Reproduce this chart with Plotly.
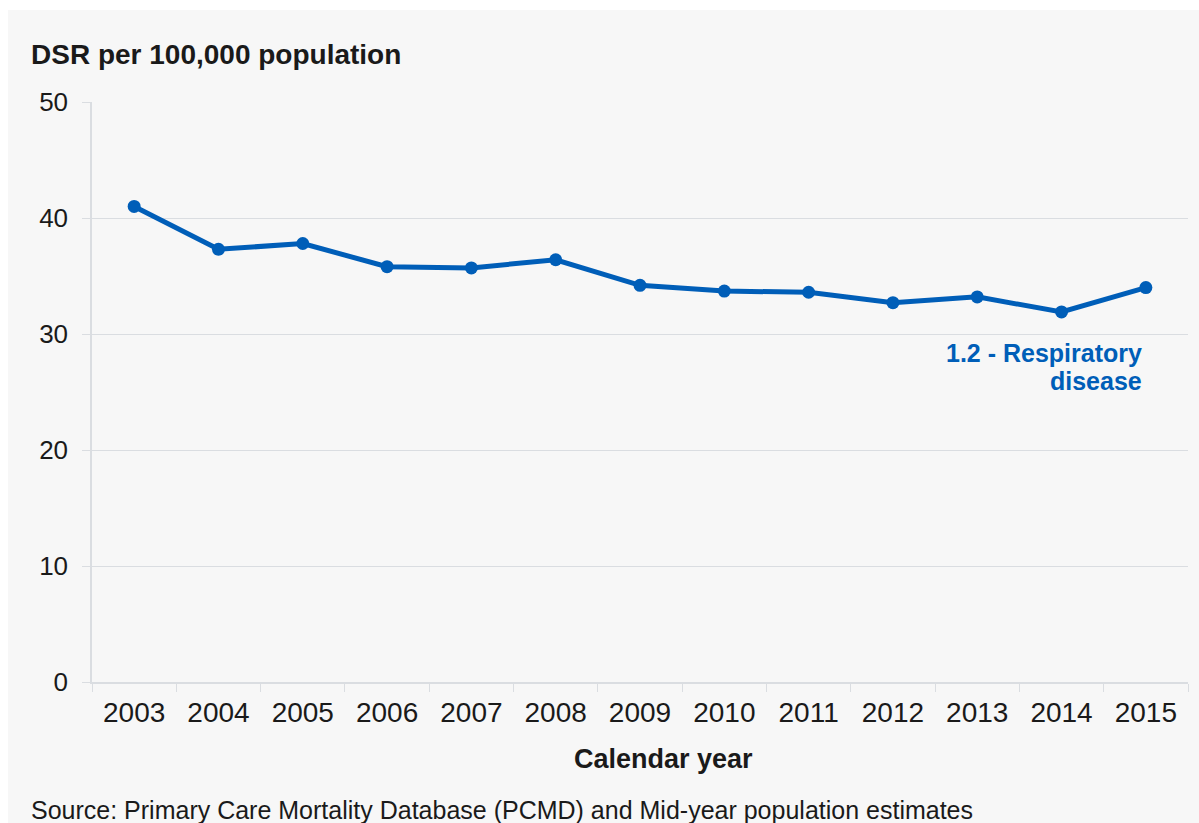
import plotly.graph_objects as go

years = ["2003", "2004", "2005", "2006", "2007", "2008", "2009",
         "2010", "2011", "2012", "2013", "2014", "2015"]
dsr = [41.0, 37.3, 37.8, 35.8, 35.7, 36.4, 34.2, 33.7, 33.6, 32.7, 33.2, 31.9, 34.0]

y_ticks = [0, 10, 20, 30, 40, 50]
series_label_lines = ["1.2 - Respiratory", "disease"]

BLUE = "#005EB8"
BG = "#f7f7f7"
GRID = "#dadde1"
TXT = "#1a1a1a"
FONT = "Liberation Sans, Arial, sans-serif"

fig = go.Figure()
fig.add_trace(go.Scatter(
    x=years, y=dsr, mode="lines+markers",
    line=dict(color=BLUE, width=5),
    marker=dict(color=BLUE, size=13),
    showlegend=False, hoverinfo="x+y",
))

W, H = 1199, 823
ml, mr, mt, mb = 92, 11, 102, 141
pw = W - ml - mr
ph = H - mt - mb

def px_x(p):
    return (p - ml) / pw

def px_y(p):
    return (H - mb - p) / ph

fig.add_shape(type="rect", xref="paper", yref="paper",
              x0=px_x(8), x1=px_x(W + 5), y0=px_y(10), y1=px_y(H + 5),
              fillcolor=BG, line=dict(width=0), layer="below")

fig.update_layout(
    width=W, height=H,
    margin=dict(l=ml, r=mr, t=mt, b=mb),
    paper_bgcolor="white",
    plot_bgcolor=BG,
    font=dict(family=FONT, color=TXT, size=25),
    xaxis=dict(
        type="category",
        tickmode="array", tickvals=years, ticktext=years,
        tickson="boundaries", ticks="outside", ticklen=8, tickcolor=GRID,
        showline=True, linecolor=GRID, linewidth=1.5,
        showgrid=False,
        tickfont=dict(size=28, color=TXT),
        ticklabelstandoff=5,
        range=[-0.5, len(years) - 0.5],
    ),
    yaxis=dict(
        range=[0, 50], tickvals=y_ticks,
        ticks="outside", ticklen=8, tickcolor=GRID,
        showline=True, linecolor=GRID, linewidth=1.5,
        showgrid=True, gridcolor=GRID, gridwidth=1,
        zeroline=False,
        ticklabelstandoff=9,
        tickfont=dict(size=26, color=TXT),
    ),
)

fig.add_annotation(xref="paper", yref="paper", x=px_x(29), y=px_y(54),
                   xanchor="left", yanchor="middle", showarrow=False,
                   text="<b>DSR per 100,000 population</b>",
                   font=dict(size=28, color=TXT))

fig.add_annotation(xref="paper", yref="paper", x=px_x(663), y=px_y(759),
                   xanchor="center", yanchor="middle", showarrow=False,
                   text="<b>Calendar year</b>",
                   font=dict(size=27, color=TXT))

for i, (line_txt, ypix) in enumerate(zip(series_label_lines, [353, 381])):
    fig.add_annotation(xref="paper", yref="paper", x=px_x(1144), y=px_y(ypix),
                       xanchor="right", yanchor="middle", align="right", showarrow=False,
                       text="<b>" + line_txt + "</b>",
                       font=dict(size=25, color=BLUE))

fig.add_annotation(xref="paper", yref="paper", x=px_x(29), y=px_y(810),
                   xanchor="left", yanchor="middle", showarrow=False,
                   text="Source: Primary Care Mortality Database (PCMD) and Mid-year population estimates",
                   font=dict(size=25, color=TXT))

fig.write_html("out.html")
